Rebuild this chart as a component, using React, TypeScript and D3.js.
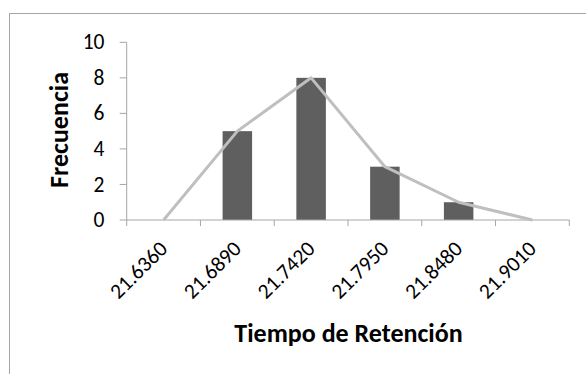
import { scaleBand, scaleLinear, line } from "d3";

const categories = ["21.6360", "21.6890", "21.7420", "21.7950", "21.8480", "21.9010"];
const frequencies = [0, 5, 8, 3, 1, 0];
const yTicks = [0, 2, 4, 6, 8, 10];

const width = 586;
const height = 374;
const font = "Calibri, Carlito, Lato, 'Open Sans', sans-serif";

const App = () => {
  const left = 126.7;
  const right = 569.3;
  const top = 42.3;
  const bottom = 220;

  const xScale = scaleBand<string>().domain(categories).range([left, right]);
  const yScale = scaleLinear().domain([0, 10]).range([bottom, top]);
  const bw = xScale.bandwidth() / 2.5;

  const center = (c: string) => (xScale(c) ?? 0) + xScale.bandwidth() / 2;
  const path = line<number>()
    .x((_, i) => center(categories[i]))
    .y((d) => yScale(d))(frequencies);

  return (
    <svg
      width={width}
      height={height}
      style={{ position: "absolute", left: 0, top: 0 }}
      fontFamily={font}
    >
      <rect x={0} y={0} width={width} height={height} fill="#fff" />
      <rect x={9.5} y={13.5} width={width + 10} height={height + 10} fill="none" stroke="#a6a6a6" />

      {/* bars */}
      {categories.map((c, i) => (
        <rect
          key={c}
          x={center(c) - bw / 2}
          y={yScale(frequencies[i])}
          width={bw}
          height={bottom - yScale(frequencies[i])}
          fill="#5f5f5f"
        />
      ))}

      {/* y axis */}
      <line x1={left} x2={left} y1={top} y2={bottom} stroke="#a6a6a6" />
      {yTicks.map((t) => (
        <g key={t}>
          <line x1={left - 7} x2={left} y1={yScale(t)} y2={yScale(t)} stroke="#a6a6a6" />
          <text x={104.5} y={yScale(t)} dy="0.33em" textAnchor="end" fontSize={21.5} fill="#000">
            {t}
          </text>
        </g>
      ))}

      {/* x axis */}
      <line x1={left} x2={right} y1={bottom} y2={bottom} stroke="#a6a6a6" />
      {[...categories.map((c) => xScale(c) ?? 0), right].map((x, i) => (
        <line key={i} x1={x} x2={x} y1={bottom} y2={bottom + 6} stroke="#a6a6a6" />
      ))}

      <path d={path ?? ""} fill="none" stroke="#bfbfbf" strokeWidth={3} strokeLinejoin="round" />

      {categories.map((c) => (
        <text
          key={c}
          transform={`translate(${center(c) + 5},${bottom + 30}) rotate(-45)`}
          textAnchor="end"
          fontSize={21.5}
          fill="#000"
        >
          {c}
        </text>
      ))}

      <text x={348.5} y={342} textAnchor="middle" fontSize={26} fontWeight="bold" fill="#000">
        Tiempo de Retención
      </text>
      <text
        transform={`translate(68,130) rotate(-90)`}
        textAnchor="middle"
        fontSize={26}
        fontWeight="bold"
        fill="#000"
      >
        Frecuencia
      </text>
    </svg>
  );
};

export default App;
